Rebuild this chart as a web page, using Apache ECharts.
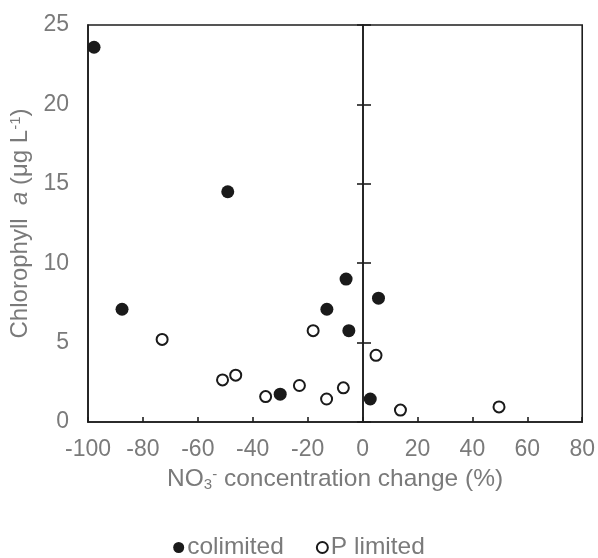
<!DOCTYPE html>
<html><head><meta charset="utf-8">
<script src="https://cdn.jsdelivr.net/npm/echarts@6/dist/echarts.min.js"></script>
<style>html,body{margin:0;padding:0;background:#fff}#c{width:598px;height:558px}</style>
</head><body><div id="c"></div>
<script>
// Data
var xTicks = [-100, -80, -60, -40, -20, 0, 20, 40, 60, 80];
var yTicks = [0, 5, 10, 15, 20, 25];
var colimitedX = [-97.8, -49.1, -87.6, -6.0, -13.0, -5.0, 5.8, 2.8, -30.0];
var colimitedY = [23.6, 14.5, 7.1, 9.0, 7.1, 5.75, 7.8, 1.45, 1.75];
var pLimitedX = [-73.0, -51.0, -46.2, -35.3, -23.0, -13.1, -7.0, -18.0, 4.9, 13.8, 49.7];
var pLimitedY = [5.2, 2.65, 2.95, 1.6, 2.3, 1.45, 2.15, 5.75, 4.2, 0.75, 0.95];

function pairs(xs, ys){ return xs.map(function(x,i){ return [x, ys[i]]; }); }

var FONT = 'Liberation Sans, Arial, sans-serif';
var GREY = '#7a7a7a';
var LINE = '#1e1e1e';

var W = 598, GL = 88, GR = 15;
var xMin = xTicks[0], xMax = xTicks[xTicks.length-1];
// pixel offset of the x = 0 line from the grid's left edge
var zeroOffset = (0 - xMin) / (xMax - xMin) * (W - GL - GR);

var chart = echarts.init(document.getElementById('c'), null, {renderer:'canvas'});
chart.setOption({
  animation: false,
  backgroundColor: '#fff',
  grid: {left: GL, right: GR, top: 25, bottom: 136, show: true, borderColor: LINE, borderWidth: 1.6, backgroundColor: 'transparent'},
  legend: {
    top: 530, left: 'center',
    itemWidth: 11, itemHeight: 11, itemGap: 32,
    textStyle: {fontFamily: FONT, fontSize: 24.5, color: GREY, padding: [0,0,0,-2]},
    data: [{name: 'colimited', icon: 'circle'}, {name: 'P limited', icon: 'circle'}]
  },
  xAxis: {
    type: 'value', min: xMin, max: xMax, interval: 20,
    splitLine: {show: false},
    axisLine: {onZero: false, lineStyle: {color: LINE, width: 1.6}},
    axisTick: {inside: true, length: 5, lineStyle: {color: LINE, width: 1.6}},
    axisLabel: {margin: 16, fontFamily: FONT, fontSize: 23, color: GREY},
    name: '{a|NO}{sub|3}{sup|-}{a| concentration change (%)}',
    nameLocation: 'middle', nameGap: 45,
    nameTextStyle: {
      rich: {
        a: {fontFamily: FONT, fontSize: 24.5, color: GREY},
        sub: {fontFamily: FONT, fontSize: 15, color: GREY, verticalAlign: 'bottom', padding: [10,0,0,0]},
        sup: {fontFamily: FONT, fontSize: 15, color: GREY, verticalAlign: 'top', padding: [0,0,10,0]}
      }
    }
  },
  yAxis: [{
    type: 'value', min: yTicks[0], max: yTicks[yTicks.length-1], interval: 5,
    splitLine: {show: false},
    axisLine: {show: true, onZero: false, lineStyle: {color: LINE, width: 1.6}},
    axisTick: {show: false},
    axisLabel: {margin: 19, fontFamily: FONT, fontSize: 23, color: GREY},
    name: '{a|Chlorophyll  }{i|a}{a| (μg L}{sup|-1}{a|)}',
    nameLocation: 'middle', nameGap: 55, nameRotate: 90,
    nameTextStyle: {
      rich: {
        a: {fontFamily: FONT, fontSize: 24, color: GREY},
        i: {fontFamily: FONT, fontSize: 24, color: GREY, fontStyle: 'italic'},
        sup: {fontFamily: FONT, fontSize: 15, color: GREY, verticalAlign: 'top', padding: [0,0,10,0]}
      }
    }
  }, {
    type: 'value', min: yTicks[0], max: yTicks[yTicks.length-1], interval: 5,
    position: 'left', offset: -zeroOffset,
    splitLine: {show: false},
    axisLine: {show: true, onZero: false, lineStyle: {color: LINE, width: 1.6}},
    axisTick: {show: true, inside: false, length: 6, lineStyle: {color: LINE, width: 1.6}},
    axisLabel: {show: false}
  }, {
    type: 'value', min: yTicks[0], max: yTicks[yTicks.length-1], interval: 5,
    position: 'left', offset: -zeroOffset,
    splitLine: {show: false},
    axisLine: {show: true, onZero: false, lineStyle: {color: LINE, width: 1.6}},
    axisTick: {show: true, inside: true, length: 8, lineStyle: {color: LINE, width: 1.6}},
    axisLabel: {show: false}
  }],
  series: [{
    name: 'colimited', type: 'scatter', symbol: 'circle', symbolSize: 13,
    itemStyle: {color: '#1a1a1a', opacity: 1},
    data: pairs(colimitedX, colimitedY)
  }, {
    name: 'P limited', type: 'scatter', symbol: 'circle', symbolSize: 11,
    itemStyle: {color: '#ffffff', borderColor: '#1a1a1a', borderWidth: 2, opacity: 1},
    data: pairs(pLimitedX, pLimitedY)
  }]
});
</script>
</body></html>
